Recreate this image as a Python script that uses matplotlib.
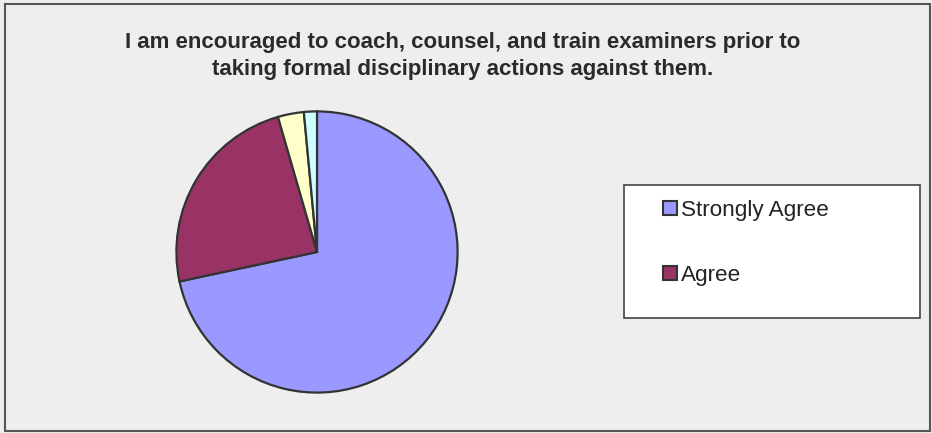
import matplotlib
matplotlib.use("Agg")
import matplotlib.pyplot as plt
from matplotlib.patches import Rectangle

# survey responses (counts)
categories = ["Strongly Agree", "Agree", "Disagree", "Strongly Disagree"]
counts = [48, 16, 2, 1]
colors = ["#9999FF", "#993366", "#FFFFCC", "#CCFFFF"]
legend_shown = 2

title_lines = ["I am encouraged to coach, counsel, and train examiners prior to",
               "taking formal disciplinary actions against them."]

W, H = 932, 433
fig = plt.figure(figsize=(W / 100, H / 100), dpi=100)
fig.patch.set_facecolor("#EEEEEE")

# outer border
fig.patches.append(Rectangle((5 / W, 2 / H), 925 / W, 427 / H, transform=fig.transFigure,
                             fill=False, edgecolor="#555555", linewidth=1.5))

for i, line in enumerate(title_lines):
    fig.text(463 / W, 1 - (48 + 27 * i) / H, line, ha="center", va="baseline",
             fontsize=16, fontweight="bold", family="Liberation Sans", color="#2a2a2a")

cx, cy, r = 317, 252, 142
ax = fig.add_axes([(cx - r) / W, (H - cy - r) / H, 2 * r / W, 2 * r / H])
wedges, _ = ax.pie(counts, colors=colors, startangle=90, counterclock=False,
                   wedgeprops=dict(edgecolor="#333333", linewidth=1.6))
ax.set_xlim(-1.01, 1.01)
ax.set_ylim(-1.01, 1.01)
ax.set_aspect("equal")
ax.axis("off")

# legend frame
fig.patches.append(Rectangle((624 / W, 1 - 318 / H), 296 / W, 133 / H, transform=fig.transFigure,
                             facecolor="white", edgecolor="#444444", linewidth=1.2))
leg = fig.legend(wedges[:legend_shown], categories[:legend_shown], loc="upper left",
                 bbox_to_anchor=(652 / W, 1 - 189 / H), frameon=False, borderpad=0,
                 prop=dict(family="Liberation Sans", size=16.2), labelcolor="#222222",
                 handlelength=0.6, handleheight=0.6, handletextpad=0.2, labelspacing=1.95)
for h in leg.legend_handles:
    h.set_linewidth(1.5)
    h.set_edgecolor("#333333")

fig.savefig("out.png", dpi=100, facecolor=fig.get_facecolor())
